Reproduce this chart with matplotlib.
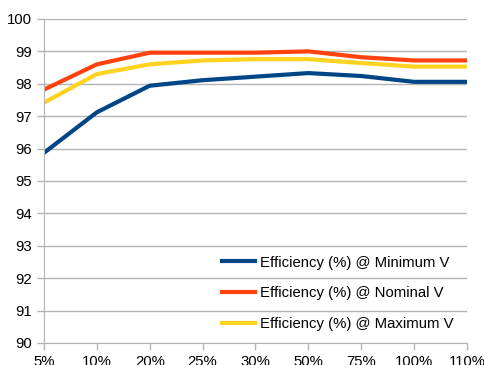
import matplotlib.pyplot as plt

plt.rcParams['font.family'] = ['Liberation Sans', 'DejaVu Sans']

# load levels (% of rated)
cargas = ["5%", "10%", "20%", "25%", "30%", "50%", "75%", "100%", "110%"]

ef_min = [95.87, 97.12, 97.94, 98.11, 98.22, 98.33, 98.24, 98.06, 98.06]
ef_nom = [97.82, 98.60, 98.96, 98.96, 98.96, 99.00, 98.82, 98.72, 98.72]
ef_max = [97.42, 98.30, 98.60, 98.72, 98.76, 98.76, 98.64, 98.53, 98.53]

cinza = "#b3b3b3"

fig = plt.figure(figsize=(4.85, 3.65), dpi=100)
ax = fig.add_axes([0.0907, 0.0603, 0.872, 0.8877])

x = range(len(cargas))
ax.plot(x, ef_min, color="#004586", lw=3, label="Efficiency (%) @ Minimum V")
ax.plot(x, ef_nom, color="#ff420e", lw=3, label="Efficiency (%) @ Nominal V")
ax.plot(x, ef_max, color="#ffd320", lw=3, label="Efficiency (%) @ Maximum V")

ax.set_xlim(0, len(cargas) - 1)
ax.set_ylim(90, 100)
ax.set_xticks(list(x))
ax.set_xticklabels(cargas)
ax.set_yticks(range(90, 101))

ax.grid(axis="y", color=cinza, lw=1)
ax.set_axisbelow(True)
for lado in ["top", "right"]:
    ax.spines[lado].set_visible(False)
for lado in ["left", "bottom"]:
    ax.spines[lado].set_color(cinza)
ax.tick_params(colors=cinza, labelcolor="black", labelsize=10.7, length=5, width=1)
ax.tick_params(axis="x", pad=4)
ax.tick_params(axis="y", pad=3.5)

# legend sits inside the lower right of the plot, no frame
ax.legend(loc="upper left", bbox_to_anchor=(0.445, 0.316), bbox_transform=fig.transFigure,
          frameon=False, fontsize=10.7, handlelength=2.25, handletextpad=0.3,
          labelspacing=1.12, borderaxespad=0)

fig.savefig("out.png")
